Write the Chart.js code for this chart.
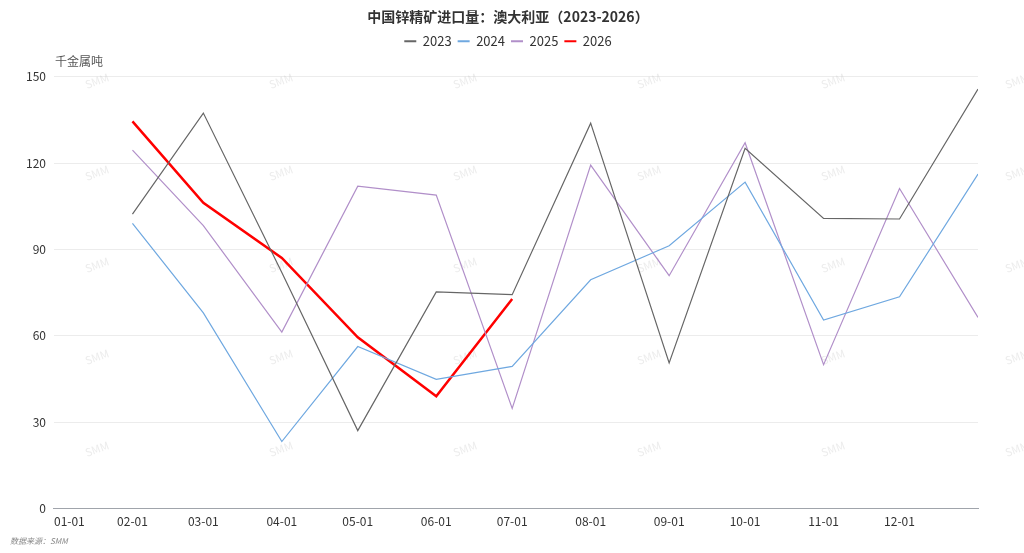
<!DOCTYPE html>
<html>
<head>
<meta charset="utf-8">
<title>中国锌精矿进口量：澳大利亚</title>
<script src="https://cdn.jsdelivr.net/npm/chart.js@4.4.1/dist/chart.umd.min.js"></script>
<style>
    html, body { margin: 0; padding: 0; background: #fff; }
    #wrap { position: relative; width: 1024px; height: 553px; }
    #source {
        position: absolute; left: 10px; top: 535px;
        font: italic 8px "Noto Sans CJK SC", sans-serif; color: #888;
    }
</style>
</head>
<body>
<div id="wrap">
    <canvas id="zincChart" width="1024" height="553"></canvas>
    <div id="source">数据来源：SMM</div>
</div>
<script>
/* Zinc concentrate imports from Australia, one line per year */

const FONT = '"Noto Sans CJK SC", "Noto Sans", sans-serif';

// axis ticks (month starts) and the dates each monthly value sits on
const tickDates = ["01-01", "02-01", "03-01", "04-01", "05-01", "06-01",
                   "07-01", "08-01", "09-01", "10-01", "11-01", "12-01", "12-31+"];
const tickLabels = ["01-01", "02-01", "03-01", "04-01", "05-01", "06-01",
                    "07-01", "08-01", "09-01", "10-01", "11-01", "12-01", ""];
const pointDates = ["02-01", "03-01", "04-01", "05-01", "06-01", "07-01",
                    "08-01", "09-01", "10-01", "11-01", "12-01", "12-31+"];

const seriesNames = ["2023", "2024", "2025", "2026"];
const values2023 = [102.3, 137.4, 82.0, 27.1, 75.3, 74.3, 133.9, 50.6, 125.2, 100.8, 100.6, 145.7];
const values2024 = [99.1, 68.0, 23.3, 56.3, 44.9, 49.4, 79.5, 91.3, 113.4, 65.5, 73.6, 116.2];
const values2025 = [124.5, 98.3, 61.3, 112.0, 108.9, 34.8, 119.3, 80.9, 127.1, 50.0, 111.2, 66.4];
const values2026 = [134.5, 106.2, 87.1, 59.5, 39.0, 72.8];

const yTicks = [0, 30, 60, 90, 120, 150];

const monthStart = [0, 31, 59, 90, 120, 151, 181, 212, 243, 273, 304, 334];

function dayOfYear(md) {
    // "12-31+" means the end of the year (next 01-01)
    if (md.endsWith("+")) return 365;
    const [m, d] = md.split("-").map(Number);
    return monthStart[m - 1] + d - 1;
}

function toPoints(vals) {
    return vals.map((v, i) => ({ x: dayOfYear(pointDates[i]), y: v }));
}

const tickDays = tickDates.map(dayOfYear);

const watermark = {
    id: "watermark",
    beforeDatasetsDraw(chart) {
        const ctx = chart.ctx;
        ctx.save();
        ctx.font = "11px " + FONT;
        ctx.fillStyle = "rgba(200,200,200,0.35)";
        ctx.textAlign = "center";
        ctx.textBaseline = "middle";
        for (let cx = 97; cx < 1030; cx += 184) {
            for (let cy = 81; cy < 460; cy += 92) {
                ctx.save();
                ctx.translate(cx, cy);
                ctx.rotate(-0.35);
                ctx.fillText("SMM", 0, 0);
                ctx.restore();
            }
        }
        ctx.restore();
    }
};

const unitLabel = {
    id: "unitLabel",
    afterDraw(chart) {
        const ctx = chart.ctx;
        ctx.save();
        ctx.font = "12px " + FONT;
        ctx.fillStyle = "#555";
        ctx.textAlign = "left";
        ctx.textBaseline = "middle";
        ctx.fillText("千金属吨", chart.chartArea.left + 1, chart.chartArea.top - 15);
        ctx.restore();
    }
};

const legendSpace = {
    id: "legendSpace",
    beforeInit(chart) {
        const fit = chart.legend.fit;
        chart.legend.fit = function () {
            fit.bind(chart.legend)();
            this.height += 19;
        };
    }
};

const colors = ["#666666", "#6fa8e0", "#b18fc9", "#ff0000"];
const widths = [1.2, 1.2, 1.2, 2.5];
const allValues = [values2023, values2024, values2025, values2026];

const datasets = seriesNames.map((name, i) => ({
    label: name,
    data: toPoints(allValues[i]),
    borderColor: colors[i],
    backgroundColor: colors[i],
    borderWidth: widths[i],
    pointRadius: 0,
    pointHoverRadius: 0,
    tension: 0,
    fill: false
}));

new Chart(document.getElementById("zincChart"), {
    type: "line",
    data: { datasets },
    plugins: [watermark, unitLabel, legendSpace],
    options: {
        responsive: false,
        animation: false,
        layout: { padding: { left: 18, right: 26, bottom: 18, top: 0 } },
        plugins: {
            title: {
                display: true,
                text: "中国锌精矿进口量：澳大利亚（2023-2026）",
                color: "#333",
                font: { family: FONT, size: 14, weight: "bold" },
                padding: { top: 8, bottom: 4 }
            },
            legend: {
                position: "top",
                labels: {
                    usePointStyle: true,
                    pointStyle: "line",
                    pointStyleWidth: 12,
                    boxHeight: 6,
                    padding: 6,
                    color: "#333",
                    font: { family: FONT, size: 13 },
                    generateLabels: chart => {
                        // thicker swatches than the thin lines themselves
                        const items = Chart.defaults.plugins.legend.labels.generateLabels(chart);
                        items.forEach(it => { it.lineWidth = 2; });
                        return items;
                    }
                }
            },
            tooltip: { enabled: false }
        },
        scales: {
            x: {
                type: "linear",
                min: 0,
                max: 365,
                afterBuildTicks: scale => { scale.ticks = tickDays.map(v => ({ value: v })); },
                grid: { display: false, drawTicks: false },
                border: { display: true, color: "#a0a4ab", width: 1 },
                ticks: {
                    autoSkip: false,
                    maxRotation: 0,
                    align: "inner",
                    padding: 6,
                    color: "#333",
                    font: { family: FONT, size: 12 },
                    callback: (v) => {
                        const i = tickDays.indexOf(v);
                        return i >= 0 ? tickLabels[i] : "";
                    }
                }
            },
            y: {
                min: 0,
                max: 150,
                afterBuildTicks: scale => { scale.ticks = yTicks.map(v => ({ value: v })); },
                grid: {
                    color: ctx => (ctx.tick && ctx.tick.value === 0) ? "rgba(0,0,0,0)" : "#ececec",
                    drawTicks: false
                },
                border: { display: false },
                ticks: {
                    padding: 8,
                    color: "#333",
                    font: { family: FONT, size: 12 }
                }
            },
            // empty right-hand spacer so the chart area ends where the original does
            yRight: {
                position: "right",
                min: 0,
                max: 150,
                grid: { display: false, drawTicks: false },
                border: { display: false },
                ticks: { display: false },
                afterFit: scale => { scale.width = 20; }
            }
        }
    }
});
</script>
</body>
</html>
